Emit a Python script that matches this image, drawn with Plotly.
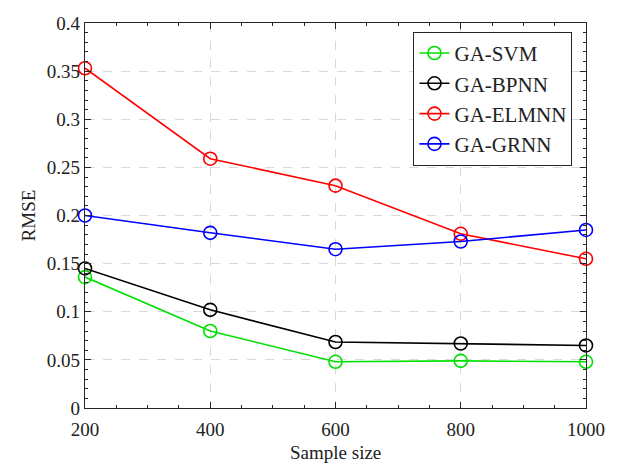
import plotly.graph_objects as go

sample_size = [200, 400, 600, 800, 1000]
ga_svm = [0.136, 0.080, 0.048, 0.049, 0.048]
ga_bpnn = [0.145, 0.102, 0.0686, 0.067, 0.065]
ga_elmnn = [0.353, 0.259, 0.231, 0.181, 0.155]
ga_grnn = [0.200, 0.182, 0.165, 0.173, 0.185]

series = [
    ("GA-SVM", ga_svm, "#00e000"),
    ("GA-BPNN", ga_bpnn, "#000000"),
    ("GA-ELMNN", ga_elmnn, "#ff0000"),
    ("GA-GRNN", ga_grnn, "#0000ff"),
]

fig = go.Figure()
for name, vals, col in series:
    fig.add_trace(go.Scatter(
        x=sample_size, y=vals, name=name, mode="lines+markers",
        line=dict(color=col, width=1.6),
        marker=dict(symbol="circle-open", size=13, color=col, line=dict(width=1.6, color=col)),
        cliponaxis=False,
    ))

font = dict(family="Liberation Serif, Times New Roman, serif", size=19, color="#222")
axis_common = dict(
    showline=True, linecolor="#262626", linewidth=1.3, mirror="ticks",
    ticks="inside", ticklen=6, tickwidth=1, tickcolor="#262626",
    showgrid=True, gridcolor="#d9d9d9", griddash="dash", gridwidth=1,
    zeroline=False, tickfont=font,
)

fig.update_layout(
    width=617, height=464,
    margin=dict(l=85, r=19, t=23, b=56),
    paper_bgcolor="white", plot_bgcolor="white",
    font=font,
    xaxis=dict(range=[200, 1000], tickvals=[200, 400, 600, 800, 1000],
               ticklabelstandoff=4,
               minor=dict(dtick=50, ticks="inside", ticklen=3, tickcolor="#262626", showgrid=False),
               **axis_common),
    yaxis=dict(range=[0, 0.4], dtick=0.05, tickformat="~g",
               minor=dict(dtick=0.01, ticks="inside", ticklen=3, tickcolor="#262626", showgrid=False),
               title=dict(text="RMSE", font=font, standoff=6), **axis_common),
    legend=dict(x=0.973, y=0.977, xanchor="right", yanchor="top",
                bgcolor="white", bordercolor="#262626", borderwidth=1,
                font=dict(family="Liberation Serif, Times New Roman, serif", size=21, color="#222"),
                tracegroupgap=0, itemwidth=30),
    showlegend=True,
    annotations=[dict(text="Sample size", x=0.5, y=0, xref="paper", yref="paper",
                      xanchor="center", yanchor="top", yshift=-32, showarrow=False, font=font)],
)

fig.write_html("out.html")
